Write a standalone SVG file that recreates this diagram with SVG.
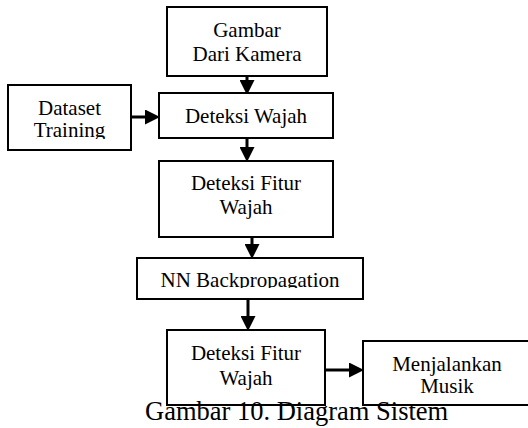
<svg xmlns="http://www.w3.org/2000/svg" width="528" height="428" viewBox="0 0 528 428">
<defs>
<style>
.box{fill:#fff;stroke:#000;stroke-width:2}
.t{font-family:"Liberation Serif","Times New Roman",serif;font-size:21px;fill:#000;text-anchor:middle}
.cap{font-family:"Liberation Serif","Times New Roman",serif;font-size:26.5px;fill:#000}
.c{stroke:#000;stroke-width:3;fill:none}
</style>
<marker id="ah" markerUnits="userSpaceOnUse" markerWidth="15" markerHeight="15" refX="0" refY="7" orient="auto" viewBox="0 0 14 14">
<path d="M0,0 L14,7 L0,14 Z" fill="#000"/>
</marker>
<clipPath id="clipDS"><rect x="8" y="85" width="123" height="54"/></clipPath>
<clipPath id="clipNN"><rect x="137" y="258" width="226" height="30"/></clipPath>
</defs>
<rect width="528" height="428" fill="#fff"/>
<g id="connectors">
<line class="c" x1="247" y1="76" x2="247" y2="80" marker-end="url(#ah)"/>
<line class="c" x1="131" y1="117" x2="145" y2="117" marker-end="url(#ah)"/>
<line class="c" x1="247" y1="138" x2="247" y2="147" marker-end="url(#ah)"/>
<line class="c" x1="252" y1="237" x2="252" y2="244" marker-end="url(#ah)"/>
<line class="c" x1="248" y1="299" x2="248" y2="316" marker-end="url(#ah)"/>
<line class="c" x1="325" y1="370" x2="349" y2="370" marker-end="url(#ah)"/>
</g>
<g id="gambar-kamera">
<rect class="box" x="167" y="7" width="160" height="69"/>
<text class="t" x="247" y="37">Gambar</text>
<text class="t" x="247" y="61">Dari Kamera</text>
</g>
<g id="dataset-training">
<rect class="box" x="8" y="85" width="123" height="65"/>
<g clip-path="url(#clipDS)">
<text class="t" x="69.5" y="115">Dataset</text>
<text class="t" x="69.5" y="137">Training</text>
</g>
</g>
<g id="deteksi-wajah">
<rect class="box" x="159" y="93" width="174" height="45"/>
<text class="t" x="246" y="123">Deteksi Wajah</text>
</g>
<g id="deteksi-fitur-1">
<rect class="box" x="159" y="161" width="174" height="76"/>
<text class="t" x="246" y="190">Deteksi Fitur</text>
<text class="t" x="246" y="214">Wajah</text>
</g>
<g id="nn-backpropagation">
<rect class="box" x="137" y="258" width="226" height="41"/>
<g clip-path="url(#clipNN)">
<text class="t" x="250" y="287">NN Backpropagation</text>
</g>
</g>
<g id="deteksi-fitur-2">
<rect class="box" x="167" y="330" width="158" height="75"/>
<text class="t" x="246" y="360">Deteksi Fitur</text>
<text class="t" x="246" y="385">Wajah</text>
</g>
<g id="menjalankan-musik">
<rect class="box" x="363" y="341" width="170" height="64"/>
<text class="t" x="447" y="371">Menjalankan</text>
<text class="t" x="447" y="393">Musik</text>
</g>
<text class="cap" x="145" y="420">Gambar 10. Diagram Sistem</text>
</svg>
